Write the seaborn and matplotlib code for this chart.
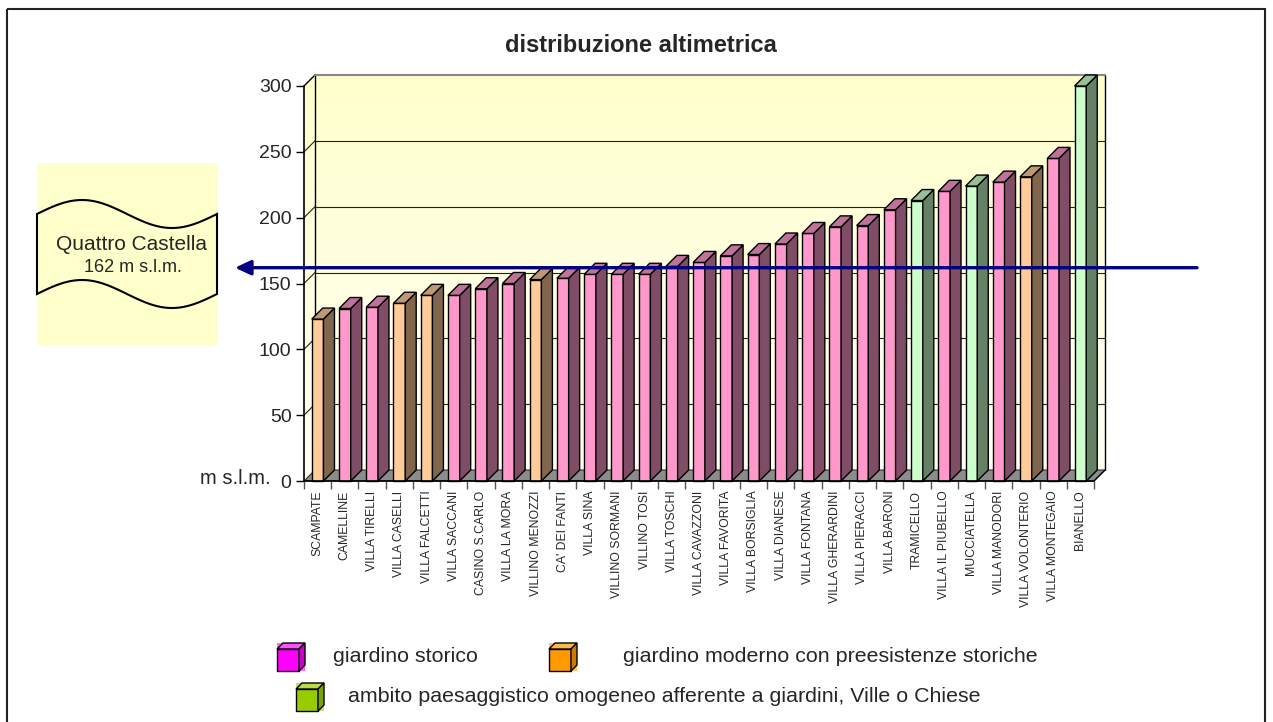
import numpy as np
import pandas as pd
import matplotlib
matplotlib.use("Agg")
import matplotlib.pyplot as plt
import seaborn as sns
from matplotlib.patches import Polygon, Rectangle
from matplotlib.ticker import FixedLocator
from matplotlib.colors import to_rgb

# --- data -------------------------------------------------------------
gardens = [
    "SCAMPATE", "CAMELLINE", "VILLA TIRELLI", "VILLA CASELLI", "VILLA FALCETTI",
    "VILLA SACCANI", "CASINO S.CARLO", "VILLA LA MORA", "VILLINO MENOZZI",
    "CA' DEI FANTI", "VILLA SINA", "VILLINO SORMANI", "VILLINO TOSI",
    "VILLA TOSCHI", "VILLA CAVAZZONI", "VILLA FAVORITA", "VILLA BORSIGLIA",
    "VILLA DIANESE", "VILLA FONTANA", "VILLA GHERARDINI", "VILLA PIERACCI",
    "VILLA BARONI", "TRAMICELLO", "VILLA IL PIUBELLO", "MUCCIATELLA",
    "VILLA MANODORI", "VILLA VOLONTERIO", "VILLA MONTEGAIO", "BIANELLO",
]
altitude = [123, 131, 132, 135, 141, 141, 146, 150, 153, 154, 157, 157, 157,
            163, 166, 171, 172, 180, 188, 193, 194, 206, 213, 220, 224, 227,
            231, 245, 300]
kind = ["moderno", "storico", "storico", "moderno", "moderno", "storico",
        "storico", "storico", "moderno", "storico", "storico", "storico",
        "storico", "storico", "storico", "storico", "storico", "storico",
        "storico", "storico", "storico", "storico", "ambito", "storico",
        "ambito", "storico", "moderno", "storico", "ambito"]

legend_labels = ["giardino storico",
                 "giardino moderno con preesistenze storiche",
                 "ambito paesaggistico omogeneo afferente a giardini, Ville o Chiese"]
town_name = "Quattro Castella"
town_altitude = 162
yticks = [0, 50, 100, 150, 200, 250, 300]

bar_face = {"storico": "#FF99CC", "moderno": "#FFCC99", "ambito": "#CCFFCC"}
legend_face = ["#FF00FF", "#FF9900", "#99CC00"]

# --- figure -----------------------------------------------------------
sns.set_style("white")
plt.rcParams["font.family"] = ["Liberation Sans", "DejaVu Sans"]

W, H = 1273, 722
fig = plt.figure(figsize=(W / 100, H / 100), dpi=100)
fig.patch.set_facecolor("white")

bg = fig.add_axes([0, 0, 1, 1], zorder=0)
bg.set_xlim(0, W)
bg.set_ylim(H, 0)
bg.axis("off")

x0px, x1px, y0px, ytop = 304, 1094, 481, 86
ax = fig.add_axes([x0px / W, (H - y0px) / H, (x1px - x0px) / W, (y0px - ytop) / H],
                  zorder=1)
ax.set_facecolor("none")

n = len(gardens)
xl, xr = -0.5, n - 0.5
ymax = 300
depth_px = 11
dx = depth_px / ((x1px - x0px) / n)
dy = depth_px / ((y0px - ytop) / ymax)

# walls: soft vertical gradient built from thin horizontal bands
top_c = np.array([1.0, 1.0, 0.80])
bot_c = np.array([1.0, 1.0, 0.96])
levels = np.linspace(0, ymax, 121)
for va, vb in zip(levels[:-1], levels[1:]):
    t = 1 - (va + vb) / 2 / ymax
    col = top_c * (1 - t) + bot_c * t
    vb2 = min(vb + 0.6, ymax)
    ax.add_patch(Polygon([(xl + dx, va + dy), (xr + dx, va + dy),
                          (xr + dx, vb2 + dy), (xl + dx, vb2 + dy)], closed=True,
                         fc=col, ec="none", lw=0, zorder=0.5, clip_on=False))
    ax.add_patch(Polygon([(xl, va), (xl + dx, va + dy), (xl + dx, vb2 + dy), (xl, vb2)],
                         closed=True, fc=col, ec="none", lw=0, zorder=0.5,
                         clip_on=False))

# gridlines on back and side walls
for v in yticks[1:-1]:
    ax.plot([xl + dx, xr + dx], [v + dy, v + dy], color="#222222", lw=0.8,
            zorder=0.8, clip_on=False)
    ax.plot([xl, xl + dx], [v, v + dy], color="#222222", lw=0.8,
            zorder=0.8, clip_on=False)

# floor
ax.add_patch(Polygon([(xl, 0), (xr, 0), (xr + dx, dy), (xl + dx, dy)], closed=True,
                     fc="#8C8C8C", ec="#333333", lw=0.8, zorder=1, clip_on=False))

# wall edges
edge_kw = dict(color="black", lw=1.0, zorder=1.2, clip_on=False)
ax.plot([xl + dx, xl + dx], [dy, ymax + dy], **edge_kw)
ax.plot([xr + dx, xr + dx], [dy, ymax + dy], **edge_kw)
ax.plot([xl, xl + dx], [ymax, ymax + dy], **edge_kw)
ax.plot([xl + dx, xr + dx], [ymax + dy, ymax + dy], color="#888888", lw=1.5,
        zorder=1.2, clip_on=False)

# bars (front faces)
df = pd.DataFrame({"giardino": gardens, "quota": altitude, "tipo": kind})
sns.barplot(data=df, x="giardino", y="quota", hue="tipo", palette=bar_face,
            dodge=False, width=0.43, legend=False, saturation=1, ax=ax,
            edgecolor="black", linewidth=1.0, order=gardens)

# side faces and top caps derived from each drawn bar
for p in list(ax.patches):
    if not isinstance(p, Rectangle):
        continue
    h = p.get_height()
    if h <= 0:
        continue
    bl = p.get_x()
    br = bl + p.get_width()
    fc = np.array(to_rgb(p.get_facecolor()))
    p.set_zorder(3)
    p.set_clip_on(False)
    ax.add_patch(Polygon([(br, 0), (br + dx, dy), (br + dx, h + dy), (br, h)], closed=True,
                         fc=fc * 0.5, ec="black", lw=1.0, zorder=3, clip_on=False))
    ax.add_patch(Polygon([(bl, h), (br, h), (br + dx, h + dy), (bl + dx, h + dy)], closed=True,
                         fc=fc * 0.75, ec="black", lw=1.0, zorder=3, clip_on=False))

# front axis lines
ax.plot([xl, xl], [0, ymax], color="black", lw=1.2, zorder=4, clip_on=False)
ax.plot([xl, xr], [0, 0], color="black", lw=1.2, zorder=4, clip_on=False)
ax.plot([xr, xr + dx], [0, dy], color="black", lw=1.0, zorder=4, clip_on=False)

ax.set_xlim(xl, xr)
ax.set_ylim(0, ymax)
for s in ax.spines.values():
    s.set_visible(False)

ax.set_yticks(yticks)
ax.set_yticklabels([str(v) for v in yticks])
ax.tick_params(axis="y", left=True, length=6, width=1, color="black",
               labelsize=14, pad=3)
ax.set_xticks(range(n))
ax.set_xticklabels(gardens, rotation=90, fontsize=8.8)
ax.tick_params(axis="x", which="major", bottom=True, length=0, pad=7)
ax.xaxis.set_minor_locator(FixedLocator(np.arange(xl, xr + 0.01, 1.0)))
ax.tick_params(axis="x", which="minor", bottom=True, length=5.8, width=1,
               color="#555555")
ax.set_xlabel("")
ax.set_ylabel("")
ax.grid(False)

# town altitude reference arrow
ax.annotate("", xy=(235 / W, town_altitude), xycoords=("figure fraction", "data"),
            xytext=(1197 / W, town_altitude), textcoords=("figure fraction", "data"),
            arrowprops=dict(arrowstyle="-|>,head_length=0.47,head_width=0.22",
                            mutation_scale=20, color="#000080", lw=2.4,
                            shrinkA=0, shrinkB=0),
            zorder=10, annotation_clip=False)

# --- annotations on the full-figure layer -----------------------------
bg.add_patch(Rectangle((7, 9), 1258, 740, fill=False, ec="#222222", lw=1.5,
                       clip_on=False))

bg.text(641, 46, "distribuzione altimetrica", ha="center", va="center",
        fontsize=17, fontweight="bold")
bg.text(271, 479, "m s.l.m.", ha="right", va="center", fontsize=14.5)

# town box with a punched-tape shape
bg.add_patch(Rectangle((37, 163), 181, 182, fc="#FFFFCC", ec="none"))
xs = np.linspace(37, 217, 120)
wave = 14 * np.sin(2 * np.pi * (xs - 37) / 180)
top_edge = 214 - wave
bot_edge = 294 - wave
tape = np.vstack([np.column_stack([xs, top_edge]),
                  np.column_stack([xs[::-1], bot_edge[::-1]])])
bg.add_patch(Polygon(tape, closed=True, fc="#FFFFCC", ec="black", lw=1.5))
bg.text(131, 245, town_name, ha="center", va="center", fontsize=15)
bg.text(133, 268, f"{town_altitude} m s.l.m.", ha="center", va="center", fontsize=13)


def cube(x, y, size, depth, color):
    c = np.array(to_rgb(color))
    bg.add_patch(Rectangle((x, y), size + depth, size + depth,
                           fc=np.clip(c * 0.6 + 0.4, 0, 1), ec="none"))
    bg.add_patch(Rectangle((x, y + depth), size, size, fc=c, ec="black", lw=1))
    bg.add_patch(Polygon([(x, y + depth), (x + depth, y), (x + size + depth, y),
                          (x + size, y + depth)], closed=True,
                         fc=np.clip(c * 0.7 + 0.3, 0, 1), ec="black", lw=1))
    bg.add_patch(Polygon([(x + size, y + depth), (x + size + depth, y),
                          (x + size + depth, y + size), (x + size, y + size + depth)],
                         closed=True, fc=c * 0.8, ec="black", lw=1))


legend_pos = [(277, 643, 333, 657), (549, 643, 623, 657), (296, 683, 348, 697)]
for (cx, cy, tx, ty), lab, col in zip(legend_pos, legend_labels, legend_face):
    cube(cx, cy, 22, 6, col)
    bg.text(tx, ty, lab, ha="left", va="center", fontsize=15.4)

fig.savefig("out.png", dpi=100)
